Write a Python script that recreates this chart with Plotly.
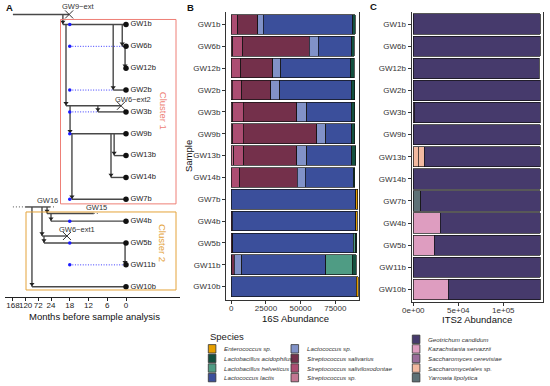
import plotly.graph_objects as go

W, H = 550, 386
FONT = "Liberation Sans"

# ---------------- data ----------------
samples = ["GW1b", "GW6b", "GW12b", "GW2b", "GW3b", "GW9b", "GW13b",
           "GW14b", "GW7b", "GW4b", "GW5b", "GW11b", "GW10b"]

# 16S abundance (stack order from zero outward)
s16_streptococcus_sp = [0, 1000, 0, 700, 1200, 1200, 1700, 0, 0, 0, 0, 0, 0]
s16_strep_saliviloxodontae = [4800, 7200, 6700, 7000, 7500, 7500, 7400, 6200, 0, 0, 600, 500, 0]
s16_strep_salivarius = [14200, 48000, 23100, 20700, 38400, 52800, 38000, 41300, 0, 700, 600, 1700, 0]
s16_lactococcus_sp = [4000, 6500, 6000, 6700, 7200, 6700, 7200, 5800, 0, 0, 0, 5500, 0]
s16_lactococcus_lactis = [64500, 24300, 50300, 51400, 32200, 18800, 32700, 34600, 89900, 89000, 86800, 60500, 90200]
s16_lactob_helveticus = [0, 0, 0, 0, 0, 0, 0, 0, 0, 0, 1700, 19000, 0]
s16_lactob_acidophilus = [1900, 1500, 2600, 2500, 2500, 1900, 2900, 1000, 0, 0, 700, 2800, 0]
s16_enterococcus = [0, 0, 0, 0, 0, 0, 0, 0, 1200, 1200, 0, 0, 1200]

# ITS2 abundance
its2_yarrowia = [0, 0, 0, 0, 0, 0, 0, 0, 8500, 0, 0, 0, 0]
its2_saccharomycetales_a = [0, 0, 0, 0, 0, 0, 5600, 0, 0, 0, 0, 0, 0]
its2_saccharomycetales_b = [0, 0, 0, 0, 0, 0, 6300, 0, 0, 0, 0, 0, 0]
its2_s_cerevisiae = [0, 0, 0, 0, 1200, 0, 0, 0, 0, 0, 0, 0, 0]
its2_kazachstania = [0, 0, 0, 0, 0, 0, 0, 0, 0, 29700, 23300, 0, 38900]
its2_geotrichum = [141000, 141000, 140000, 141000, 139800, 141000, 129100, 141000,
                   132500, 111300, 117700, 141000, 102100]

species16 = ["Enterococcus sp.", "Lactobacillus acidophilus", "Lactobacillus helveticus",
             "Lactococcus lactis", "Lactococcus sp.", "Streptococcus salivarius",
             "Streptococcus saliviloxodontae", "Streptococcus sp."]
colors16 = ["#E69F00", "#13503F", "#4F9C84", "#3B4F9B", "#8192C8", "#74304B",
            "#AC4D72", "#C47893"]
species_its = ["Geotrichum candidum", "Kazachstania servazzii", "Saccharomyces cerevisiae",
               "Saccharomycetales sp.", "Yarrowia lipolytica"]
colors_its = ["#463A6C", "#DE9DC0", "#9A6C9A", "#F2B9A0", "#5E7176"]

# ---- timeline tree (months before sample analysis) ----
tick_months = [168, 120, 72, 24, 18, 12, 6, 0]
branch_names = ["GW9−ext", "GW1b", "GW6b", "GW12b", "GW2b", "GW6−ext2", "GW3b", "GW9b",
                "GW13b", "GW14b", "GW7b", "GW16", "GW15", "GW4b", "GW6−ext1", "GW5b",
                "GW11b", "GW10b"]
branch_row = [-0.46, 0, 1, 2, 3, 3.72, 4, 5, 6, 7, 8, 8.35, 8.65, 9, 9.68, 10, 11, 12]
branch_start = [168, 20.2, 1.2, 0.3, 4.1, 19.2, 9, 17.9, 3.8, 4.8, 17.3, 122, 39, 24,
                58, 50.5, 0.3, 96]
branch_end = [18.2, 0, 0, 0, 0, 1.6, 0, 0, 0, 0, 0, 27.8, 10.3, 0, 18.9, 0, 0, 0]
branch_parent_row = [None, -0.46, 0, 1, 0, 0, 3.72, 3.72, 5, 5, 5, None, 8.35, 8.65,
                     8.35, 9.68, 10, 8.35]
extinct = ["GW9−ext", "GW6−ext2", "GW6−ext1"]
dotted_row = [8.35, 8.35, 8.65]
dotted_from = [168, 27.8, 10.3]
dotted_to = [122, 22.7, 8.6]
sampled_month = 18
sampled_rows = [0, 1, 3, 4, 5, 8, 9, 10, 11]


def mpos(m):
    """Broken month axis: linear 0-24, compressed beyond 24."""
    if m <= 24:
        return 126 - 3.125 * m
    return 51 - (m - 24) * 12.7 / 48


def pxx(x):
    return x / W


def pxy(y):
    return 1 - y / H


fig = go.Figure()

# ---------------- panel A ----------------
TREE = "#484848"
lx, ly = [], []
for i, name in enumerate(branch_names):
    lx += [mpos(branch_start[i]), mpos(branch_end[i]), None]
    ly += [branch_row[i], branch_row[i], None]
    if branch_parent_row[i] is not None:
        lx += [mpos(branch_start[i]), mpos(branch_start[i]), None]
        ly += [branch_parent_row[i], branch_row[i], None]
fig.add_trace(go.Scatter(x=lx, y=ly, mode="lines", line=dict(color=TREE, width=1.4),
                         xaxis="x", yaxis="y", hoverinfo="skip", showlegend=False))
# arrowheads
ax_, ay_ = [], []
for i in range(len(branch_names)):
    if branch_parent_row[i] is not None:
        ax_.append(mpos(branch_start[i]))
        ay_.append(branch_row[i] - 0.12)
fig.add_trace(go.Scatter(x=ax_, y=ay_, mode="markers",
                         marker=dict(symbol="triangle-down", size=4.5, color="#222"),
                         xaxis="x", yaxis="y", hoverinfo="skip", showlegend=False))
# dotted uncertain extensions
dx, dy = [], []
for r, a, b in zip(dotted_row, dotted_from, dotted_to):
    dx += [mpos(a), mpos(b), None]
    dy += [r, r, None]
fig.add_trace(go.Scatter(x=dx, y=dy, mode="lines",
                         line=dict(color="#777", width=1.2, dash="1px,2px"),
                         xaxis="x", yaxis="y", hoverinfo="skip", showlegend=False))
# blue sampling dotted lines and dots
bx, by = [], []
for r in sampled_rows:
    s = branch_start[branch_names.index(samples[r])]
    if s < sampled_month - 1:
        bx += [mpos(sampled_month), mpos(s), None]
        by += [r, r, None]
fig.add_trace(go.Scatter(x=bx, y=by, mode="lines",
                         line=dict(color="#3a3aff", width=1, dash="1px,1.6px"),
                         xaxis="x", yaxis="y", hoverinfo="skip", showlegend=False))
fig.add_trace(go.Scatter(x=[mpos(sampled_month)] * len(sampled_rows), y=sampled_rows, mode="markers",
                         marker=dict(size=3.5, color="#1a1aff"),
                         xaxis="x", yaxis="y", hoverinfo="skip", showlegend=False))
# extinct X marks
xi = [branch_names.index(n) for n in extinct]
fig.add_trace(go.Scatter(x=[mpos(branch_end[i]) for i in xi], y=[branch_row[i] for i in xi],
                         mode="markers",
                         marker=dict(symbol="x-thin-open", size=8, color="#333",
                                     line=dict(color="#333", width=1)),
                         xaxis="x", yaxis="y", hoverinfo="skip", showlegend=False))
# sample tips
fig.add_trace(go.Scatter(x=[mpos(0)] * len(samples), y=list(range(len(samples))),
                         mode="markers+text", text=samples, textposition="middle right",
                         textfont=dict(family=FONT, size=7.5, color="#222"),
                         marker=dict(size=5.5, color="#111"),
                         xaxis="x", yaxis="y", hoverinfo="skip", showlegend=False, cliponaxis=False))

annotations = []
for n, dxs, dys in [("GW9−ext", 9, 8), ("GW6−ext2", 12, 6), ("GW6−ext1", 10, 7)]:
    i = branch_names.index(n)
    annotations.append(dict(x=mpos(branch_end[i]), y=branch_row[i], xref="x", yref="y",
                            text=n, showarrow=False, xshift=dxs, yshift=dys,
                            xanchor="center", yanchor="middle",
                            font=dict(family=FONT, size=7.5, color="#333")))
for n, m in [("GW16", 39), ("GW15", 9.3)]:
    i = branch_names.index(n)
    annotations.append(dict(x=mpos(m), y=branch_row[i], xref="x", yref="y", text=n,
                            showarrow=False, yshift=6, xanchor="center", yanchor="middle",
                            font=dict(family=FONT, size=7.5, color="#333")))

shapes = [
    dict(type="rect", xref="x", yref="y", x0=60.5, x1=176, y0=-0.23, y1=8.21,
         line=dict(color="#EE7F76", width=1)),
    dict(type="rect", xref="x", yref="y", x0=26, x1=176, y0=8.58, y1=12.15,
         line=dict(color="#E4A33A", width=1)),
]
annotations.append(dict(x=163, y=3.95, xref="x", yref="y", text="Cluster 1", textangle=90,
                        showarrow=False, xanchor="center", yanchor="middle",
                        font=dict(family=FONT, size=9.5, color="#EE7F76")))
annotations.append(dict(x=163, y=10.0, xref="x", yref="y", text="Cluster 2", textangle=90,
                        showarrow=False, xanchor="center", yanchor="middle",
                        font=dict(family=FONT, size=9.5, color="#E4A33A")))

# ---------------- panel B ----------------
rows = list(range(len(samples)))
b_series = [
    (s16_streptococcus_sp, 7), (s16_strep_saliviloxodontae, 6), (s16_strep_salivarius, 5),
    (s16_lactococcus_sp, 4), (s16_lactococcus_lactis, 3), (s16_lactob_helveticus, 2),
    (s16_lactob_acidophilus, 1), (s16_enterococcus, 0),
]
for vals, ci in b_series:
    fig.add_trace(go.Bar(x=[v if v else None for v in vals], y=rows, orientation="h",
                         name=species16[ci], marker=dict(color=colors16[ci],
                                                          line=dict(color="#111", width=0.7)),
                         width=0.9, xaxis="x2", yaxis="y2", showlegend=False))

# ---------------- panel C ----------------
c_series = [
    (its2_yarrowia, 4), (its2_saccharomycetales_a, 3), (its2_saccharomycetales_b, 3),
    (its2_s_cerevisiae, 2), (its2_kazachstania, 1), (its2_geotrichum, 0),
]
for vals, ci in c_series:
    fig.add_trace(go.Bar(x=[v if v else None for v in vals], y=rows, orientation="h",
                         name=species_its[ci], marker=dict(color=colors_its[ci],
                                                            line=dict(color="#111", width=0.7)),
                         width=0.92, xaxis="x3", yaxis="y3", showlegend=False))

# ---------------- legend (drawn) ----------------
annotations.append(dict(x=pxx(208), y=pxy(336), xref="paper", yref="paper", text="Species",
                        showarrow=False, xanchor="left", yanchor="middle",
                        font=dict(family=FONT, size=9.5, color="#222")))
cols = [(species16[:4], colors16[:4], 208.3, 344),
        (species16[4:], colors16[4:], 291, 344),
        (species_its, colors_its, 412.3, 334.5)]
SW, SH = 7.6, 9.6
for names, cols_, x0, y0 in cols:
    for k, (nm, cc) in enumerate(zip(names, cols_)):
        ytop = y0 + k * SH
        shapes.append(dict(type="rect", xref="paper", yref="paper",
                           x0=pxx(x0), x1=pxx(x0 + SW), y0=pxy(ytop + SH - 0.6), y1=pxy(ytop + 0.6),
                           fillcolor=cc, line=dict(color="#333", width=0.8)))
        annotations.append(dict(x=pxx(x0 + SW + 6.2), y=pxy(ytop + SH / 2), xref="paper",
                                yref="paper", text="<i>" + nm + "</i>", showarrow=False,
                                xanchor="left", yanchor="middle",
                                font=dict(family=FONT, size=6.2, color="#333")))

# panel letters
for t, x, y in [("A", 9, 8), ("B", 190, 8), ("C", 373, 7)]:
    annotations.append(dict(x=pxx(x), y=pxy(y), xref="paper", yref="paper", text="<b>" + t + "</b>",
                            showarrow=False, xanchor="center", yanchor="middle",
                            font=dict(family=FONT, size=9.5, color="#111")))

# axis titles
title_font = dict(family=FONT, size=9.5, color="#111")
for t, x, y, ang in [("Months before sample analysis", 94, 316, 0), ("16S Abundance", 295, 318, 0),
                     ("ITS2 Abundance", 477, 319.5, 0), ("Sample", 188, 156, -90)]:
    annotations.append(dict(x=pxx(x), y=pxy(y), xref="paper", yref="paper", text=t,
                            textangle=ang, showarrow=False, xanchor="center", yanchor="middle",
                            font=title_font))

axis_font = dict(family=FONT, size=8, color="#333")

fig.update_layout(
    width=W, height=H, margin=dict(l=0, r=0, t=0, b=0, autoexpand=False),
    paper_bgcolor="white", plot_bgcolor="white", barmode="stack", bargap=0.08,
    showlegend=False,
    xaxis=dict(domain=[pxx(5), pxx(180)], range=[5, 180], showgrid=False, zeroline=False,
               showline=True, linecolor="#222", linewidth=1, ticks="outside", ticklen=3,
               tickcolor="#222", tickvals=[mpos(m) for m in tick_months], tickangle=0,
               ticktext=[str(m) for m in tick_months], tickfont=dict(family=FONT, size=8, color="#222"),
               ticklabelstandoff=-3, automargin=False, anchor="y"),
    yaxis=dict(domain=[pxy(297), pxy(5)], range=[12.471, -0.892], visible=False, anchor="x",
               automargin=False),
    xaxis2=dict(domain=[pxx(226), pxx(359)], range=[-3820, 92070], showgrid=False, zeroline=False,
                showline=True, linecolor="#333", linewidth=1, ticks="outside", ticklen=3,
                tickcolor="#333", tickvals=[0, 25000, 50000, 75000], tickangle=0,
                ticktext=["0", "25000", "50000", "75000"], tickfont=axis_font,
                ticklabelstandoff=-3, automargin=False, anchor="y2"),
    yaxis2=dict(domain=[pxy(300), pxy(12)], range=[12.61, -0.57], showgrid=False, zeroline=False,
                showline=True, mirror=True, linecolor="#333", linewidth=1, ticks="outside",
                ticklen=3, tickcolor="#333", tickvals=rows, ticktext=samples, tickfont=axis_font,
                automargin=False, anchor="x2"),
    xaxis3=dict(domain=[pxx(411.5), pxx(543)], range=[-2000, 144100], showgrid=False,
                zeroline=False, showline=True, linecolor="#333", linewidth=1, ticks="outside",
                ticklen=3, tickcolor="#333", tickvals=[0, 50000, 100000], tickangle=0,
                ticktext=["0e+00", "5e+04", "1e+05"], tickfont=axis_font,
                ticklabelstandoff=-3, automargin=False, anchor="y3"),
    yaxis3=dict(domain=[pxy(302), pxy(12)], range=[12.57, -0.55], showgrid=False, zeroline=False,
                showline=True, mirror=True, linecolor="#333", linewidth=1, ticks="outside",
                ticklen=3, tickcolor="#333", tickvals=rows, ticktext=samples, tickfont=axis_font,
                automargin=False, anchor="x3"),
    shapes=shapes, annotations=annotations,
)

fig.write_html("out.html", config={"displayModeBar": False},
               post_script="document.body.style.margin='0px';")
